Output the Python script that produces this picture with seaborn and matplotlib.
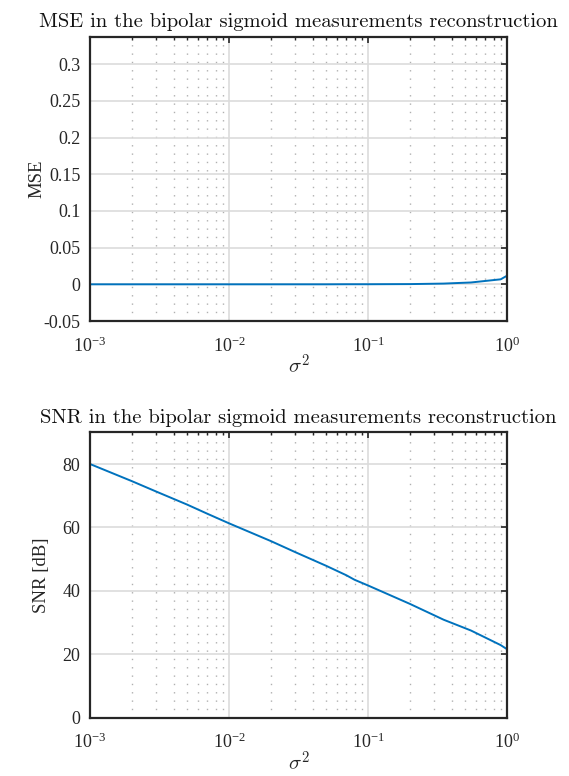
import numpy as np
import pandas as pd
import matplotlib
matplotlib.use("Agg")
import matplotlib.pyplot as plt
from matplotlib.ticker import LogLocator, FuncFormatter, NullFormatter
import seaborn as sns

# Noise variance sweep and the resulting reconstruction quality
sigma2 = [0.001, 0.002, 0.003, 0.005, 0.007, 0.01, 0.02, 0.03, 0.05, 0.07,
          0.08, 0.1, 0.2, 0.35, 0.55, 0.9, 1.0]
mse = [0.0, 0.0, 0.0, 0.0, 0.0, 0.0, 0.0, 0.0, 0.0, 0.0001,
       0.0001, 0.0001, 0.0003, 0.0010, 0.0025, 0.0068, 0.0117]
snr_db = [80.0, 74.6, 71.3, 67.2, 64.3, 61.3, 55.7, 52.2, 47.9, 44.9,
          43.5, 41.7, 35.9, 30.9, 27.5, 22.9, 21.6]

x_ticks = [1e-3, 1e-2, 1e-1, 1e0]
mse_ticks = [-0.05, 0.0, 0.05, 0.1, 0.15, 0.2, 0.25, 0.3]
snr_ticks = [0, 20, 40, 60, 80]

titles = ["MSE in the bipolar sigmoid measurements reconstruction",
          "SNR in the bipolar sigmoid measurements reconstruction"]
ylabels = ["MSE", "SNR [dB]"]

df = pd.DataFrame({"sigma2": sigma2, "mse": mse, "snr": snr_db})

sns.set_theme(style="white")
plt.rcParams["font.family"] = ["Liberation Serif", "DejaVu Serif"]
plt.rcParams["mathtext.fontset"] = "cm"
plt.rcParams["axes.unicode_minus"] = False

fig = plt.figure(figsize=(5.69, 7.76), dpi=100)
ax1 = fig.add_axes([90 / 569, (776 - 321) / 776, 417 / 569, 284.3 / 776])
ax2 = fig.add_axes([90 / 569, (776 - 717.7) / 776, 417 / 569, 285.4 / 776])

line_color = "#0072BD"
edge = "#262626"


def pow10_label(v, pos):
    e = int(round(np.log10(v)))
    return r"$\mathregular{10^{%d}}$" % e


def style_axes(ax, yticks, ylim, ylab, title, yfmt, ylab_x):
    ax.set_xscale("log")
    ax.set_xlim(1e-3, 1.0)
    ax.set_ylim(*ylim)
    ax.xaxis.set_minor_locator(LogLocator(base=10, subs=np.arange(2, 10), numticks=10))
    ax.set_xticks(x_ticks)
    ax.xaxis.set_major_formatter(FuncFormatter(pow10_label))
    ax.xaxis.set_minor_formatter(NullFormatter())
    ax.set_yticks(yticks)
    ax.yaxis.set_major_formatter(FuncFormatter(yfmt))
    ax.grid(which="major", color="#dcdcdc", linewidth=1.2, linestyle="-")
    ax.grid(which="minor", axis="x", color="#b0b0b0", linewidth=1.0, linestyle=(0, (1, 5)))
    ax.set_axisbelow(True)
    ax.tick_params(which="both", direction="in", top=True, right=True,
                   color=edge, labelsize=13, labelcolor="#262626")
    ax.tick_params(which="major", length=4, width=1.2)
    ax.tick_params(axis="y", which="major", pad=7)
    ax.tick_params(axis="x", which="major", pad=11)
    ax.tick_params(which="minor", length=2.5, width=1.0)
    for sp in ax.spines.values():
        sp.set_color(edge)
        sp.set_linewidth(1.6)
        sp.set_visible(True)
    ax.set_xlabel(r"$\sigma^2$", fontsize=15, color="#262626", labelpad=-1)
    ax.set_ylabel(ylab, fontsize=13.5, color="#262626")
    ax.yaxis.set_label_coords(ylab_x, 0.5)
    ax.set_title(title, family="cmr10", fontsize=14.8, color="#111111", pad=7)


def fmt_mse(v, pos):
    s = ("%.2f" % v).rstrip("0").rstrip(".")
    return "0" if s in ("0", "-0") else s


def fmt_snr(v, pos):
    return "%d" % v


sns.lineplot(data=df, x="sigma2", y="mse", ax=ax1, color=line_color, linewidth=1.4)
style_axes(ax1, mse_ticks, (-0.05, 0.3375), ylabels[0], titles[0], fmt_mse, -0.108)

sns.lineplot(data=df, x="sigma2", y="snr", ax=ax2, color=line_color, linewidth=1.4)
style_axes(ax2, snr_ticks, (0, 90), ylabels[1], titles[1], fmt_snr, -0.095)

fig.savefig("out.png", dpi=100, facecolor="white")
